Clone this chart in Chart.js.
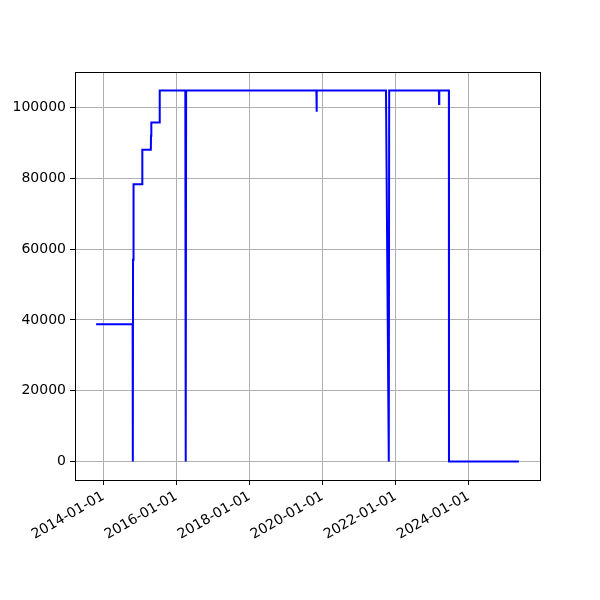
<!DOCTYPE html>
<html>
<head>
<meta charset="utf-8">
<script src="https://cdn.jsdelivr.net/npm/chart.js@4"></script>
<style>
  html, body { margin: 0; padding: 0; background: #fff; }
  #wrap { width: 600px; height: 600px; }
</style>
</head>
<body>
<div id="wrap"><canvas id="chart" width="600" height="600"></canvas></div>
<script>
// Series
const dates = [
    '2013-10-20', '2014-10-20', '2014-10-22', '2014-10-24', '2014-10-27', '2014-10-29',
    '2014-10-31', '2015-01-22', '2015-01-25', '2015-04-20', '2015-04-22', '2015-04-25',
    '2015-07-15', '2015-07-18', '2016-03-30', '2016-04-01', '2016-04-03', '2016-04-05',
    '2016-04-07', '2019-11-01', '2019-11-03', '2019-11-05', '2021-09-27', '2021-10-25',
    '2021-10-29', '2023-03-10', '2023-03-12', '2023-03-14', '2023-06-18', '2023-06-19',
    '2025-05-18'
];
const values = [
    38800, 38800, 0, 57000, 72000, 72300,
    78300, 78300, 88100, 88100, 92000, 95800,
    95800, 104800, 104800, 0, 104800, 0,
    104800, 104800, 98800, 104800, 104800, 0,
    104800, 104800, 101000, 104800, 104800, 0,
    0
];

// Tick labels
const xTickLabels = ['2014-01-01', '2016-01-01', '2018-01-01', '2020-01-01', '2022-01-01', '2024-01-01'];
const yTickValues = [0, 20000, 40000, 60000, 80000, 100000];

const toMs = s => Date.parse(s + 'T00:00:00Z');
const points = dates.map((d, i) => ({ x: toMs(d), y: values[i] }));

// matplotlib-like 5% margins
const xFirst = points[0].x, xLast = points[points.length - 1].x;
const xPad = (xLast - xFirst) * 0.05;
const yPad = (Math.max(...values) - Math.min(...values)) * 0.05;

const font = { family: 'DejaVu Sans', size: 14 };

// Frame around the plot area
const framePlugin = {
    id: 'frame',
    afterDraw(chart) {
        const { ctx, chartArea: a } = chart;
        ctx.save();
        ctx.strokeStyle = '#000';
        ctx.lineWidth = 1;
        ctx.strokeRect(Math.round(a.left) + 0.5, Math.round(a.top) + 0.5,
            Math.round(a.right - a.left), Math.round(a.bottom - a.top));
        ctx.restore();
    }
};

new Chart(document.getElementById('chart').getContext('2d'), {
    type: 'line',
    data: {
        datasets: [{
            data: points,
            borderColor: '#0000ff',
            borderWidth: 2,
            pointRadius: 0,
            tension: 0,
            fill: false
        }]
    },
    options: {
        responsive: false,
        animation: false,
        layout: { padding: { top: 72, right: 60, left: 0, bottom: 0 } },
        plugins: { legend: { display: false }, tooltip: { enabled: false } },
        scales: {
            x: {
                type: 'linear',
                min: xFirst - xPad,
                max: xLast + xPad,
                afterBuildTicks: axis => {
                    axis.ticks = xTickLabels.map(s => ({ value: toMs(s) }));
                },
                afterFit: axis => { axis.height = 120; },
                ticks: {
                    font: font,
                    color: '#000',
                    minRotation: 30,
                    maxRotation: 30,
                    padding: 3,
                    callback: v => new Date(v).toISOString().slice(0, 10)
                },
                grid: { color: '#b0b0b0', lineWidth: 1, tickColor: '#000', tickLength: 5 },
                border: { color: '#000', width: 1 }
            },
            y: {
                min: Math.min(...values) - yPad,
                max: Math.max(...values) + yPad,
                afterBuildTicks: axis => {
                    axis.ticks = yTickValues.map(v => ({ value: v }));
                },
                afterFit: axis => { axis.width = 75; },
                ticks: {
                    font: font,
                    color: '#000',
                    padding: 4,
                    callback: v => String(v)
                },
                grid: { color: '#b0b0b0', lineWidth: 1, tickColor: '#000', tickLength: 5 },
                border: { color: '#000', width: 1 }
            }
        }
    },
    plugins: [framePlugin]
});
</script>
</body>
</html>
